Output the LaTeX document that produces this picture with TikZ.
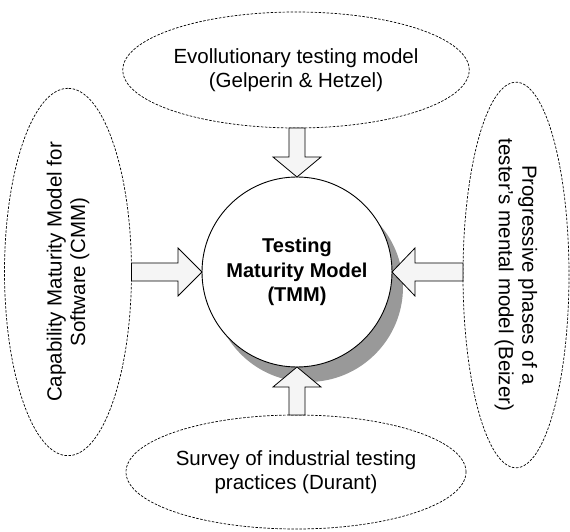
\documentclass[tikz,border=0pt]{standalone}
\usepackage{fontspec}
\setmainfont{Liberation Sans}
\usetikzlibrary{shapes.geometric,calc,shadows}
\definecolor{shade}{RGB}{153,153,153}
\definecolor{arrowfill}{RGB}{245,245,245}
\begin{document}
\begin{tikzpicture}[x=1pt,y=1pt,
  source/.style={ellipse, draw, dash pattern=on 2.5pt off 1.5pt, line width=0.7pt,
    inner sep=0pt, outer sep=0pt, align=center,
    font=\fontsize{20.5}{23.5}\selectfont},
  core/.style={circle, draw, line width=0.9pt, fill=white, minimum size=190pt,
    inner sep=0pt, outer sep=0pt, align=center,
    font=\bfseries\fontsize{20}{24.5}\selectfont,
    drop shadow={shadow xshift=11pt, shadow yshift=-15pt, fill=shade, opacity=1}},
  barrow/.style={draw, fill=arrowfill, line width=0.8pt, line join=miter}]
\useasboundingbox (0,0) rectangle (570,532);

% central model
\node[core] (tmm) at (297,260) {Testing\\Maturity Model\\(TMM)};

% contributing sources
\node[source, minimum width=326pt, minimum height=116pt] (evo) at (296,462)
  {Evollutionary testing model\\(Gelperin \& Hetzel)};
\node[source, rotate=90, minimum width=331pt, minimum height=127pt] (cmm) at (68,260)
  {Capability Maturity Model for\\Software (CMM)};
\node[source, rotate=-90, minimum width=338pt, minimum height=106pt] (beiz) at (516,257)
  {Progressive phases of a\\tester's mental model (Beizer)};
\node[source, minimum width=322pt, minimum height=114pt] (dur) at (296,60)
  {Survey of industrial testing\\practices (Durant)};

% block arrows into the model
\coordinate (tT) at (tmm.north);
\coordinate (sT) at (evo.south -| tmm.north);
\draw[barrow] ($(sT)+(-8,0)$) -- ($(tT)+(-8,20)$) -- ($(tT)+(-24,20)$) -- (tT)
  -- ($(tT)+(24,20)$) -- ($(tT)+(8,20)$) -- ($(sT)+(8,0)$) -- cycle;

\coordinate (tB) at (tmm.south);
\coordinate (sB) at (dur.north -| tmm.south);
\draw[barrow] ($(sB)+(-8,0)$) -- ($(tB)+(-8,-20)$) -- ($(tB)+(-24,-20)$) -- (tB)
  -- ($(tB)+(24,-20)$) -- ($(tB)+(8,-20)$) -- ($(sB)+(8,0)$) -- cycle;

\coordinate (tL) at (tmm.west);
\coordinate (sL) at (tmm.west -| cmm.south);
\draw[barrow] ($(sL)+(0,9)$) -- ($(tL)+(-24,9)$) -- ($(tL)+(-24,24)$) -- (tL)
  -- ($(tL)+(-24,-24)$) -- ($(tL)+(-24,-9)$) -- ($(sL)+(0,-9)$) -- cycle;

\coordinate (tR) at (tmm.east);
\coordinate (sR) at (tmm.east -| beiz.south);
\draw[barrow] ($(sR)+(0,9)$) -- ($(tR)+(23,9)$) -- ($(tR)+(23,24)$) -- (tR)
  -- ($(tR)+(23,-24)$) -- ($(tR)+(23,-9)$) -- ($(sR)+(0,-9)$) -- cycle;
\end{tikzpicture}
\end{document}
